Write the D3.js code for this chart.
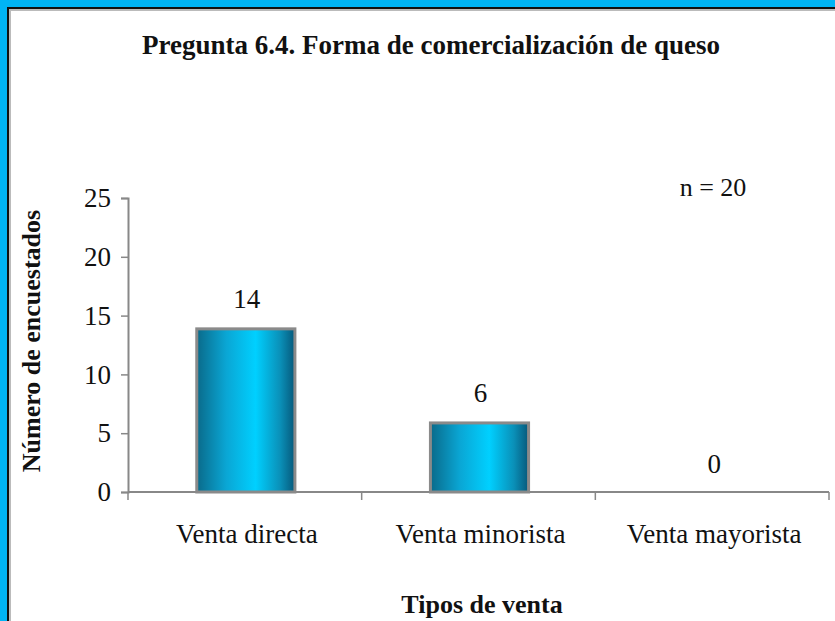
<!DOCTYPE html>
<html>
<head>
<meta charset="utf-8">
<script src="https://cdn.jsdelivr.net/npm/d3@7"></script>
<style>
  body { margin: 0; background: #00b4f5; }
  svg { display: block; }
  text { font-family: "Liberation Serif", "Times New Roman", serif; fill: #111; }
</style>
</head>
<body>
<div id="chart"></div>
<script>
// data
var categories = ["Venta directa", "Venta minorista", "Venta mayorista"];
var values = [14, 6, 0];
var yTicks = [0, 5, 10, 15, 20, 25];
var title = "Pregunta 6.4. Forma de comercialización de queso";
var xTitle = "Tipos de venta";
var yTitle = "Número de encuestados";
var note = "n = 20";

var W = 835, H = 621;
var svg = d3.select('#chart').append('svg')
	.attr('width', W)
	.attr('height', H);

// panel frame
svg.append('rect')
	.attr('x', 0).attr('y', 0).attr('width', W).attr('height', H)
	.attr('fill', '#00b4f5');
svg.append('rect')
	.attr('x', 8).attr('y', 8).attr('width', W).attr('height', H)
	.attr('fill', '#fff')
	.attr('stroke', '#111')
	.attr('stroke-width', 2);
svg.append('rect')
	.attr('x', 10).attr('y', 10).attr('width', W).attr('height', H)
	.attr('fill', 'none')
	.attr('stroke', '#bbb')
	.attr('stroke-width', 2);

var defs = svg.append('defs');
var grad = defs.append('linearGradient')
	.attr('id', 'cyl')
	.attr('x1', '0%').attr('x2', '100%').attr('y1', '0%').attr('y2', '0%');
grad.append('stop').attr('offset', '0%').attr('stop-color', '#0a6a8a');
grad.append('stop').attr('offset', '30%').attr('stop-color', '#0aa6d4');
grad.append('stop').attr('offset', '60%').attr('stop-color', '#00d0ff');
grad.append('stop').attr('offset', '85%').attr('stop-color', '#0a90b8');
grad.append('stop').attr('offset', '100%').attr('stop-color', '#06587a');

var plotL = 128, plotR = 829, plotT = 198, plotB = 492;

var x = d3.scaleBand()
	.domain(categories)
	.range([plotL, plotR])
	.padding(0);

var y = d3.scaleLinear()
	.domain([0, 25])
	.range([plotB, plotT]);

var barW = x.bandwidth() * 0.42;

// y axis
var yAxis = d3.axisLeft(y)
	.tickValues(yTicks)
	.tickSize(7)
	.tickPadding(10);
var gy = svg.append('g')
	.attr('transform', 'translate(' + plotL + ',0)')
	.call(yAxis);
gy.select('.domain').attr('stroke', '#888').attr('stroke-width', 2);
gy.selectAll('.tick line').attr('stroke', '#888').attr('stroke-width', 1.5);
gy.selectAll('.tick text')
	.style('font-family', '"Liberation Serif", serif')
	.style('font-size', '27px')
	.attr('fill', '#222');

// x axis: ticks at category boundaries
var boundaries = categories.map(function(c){ return x(c); }).concat([plotR]);
svg.append('line')
	.attr('x1', plotL).attr('x2', plotR)
	.attr('y1', plotB).attr('y2', plotB)
	.attr('stroke', '#888').attr('stroke-width', 2);
svg.append('g').selectAll('line')
	.data(boundaries)
	.enter().append('line')
	.attr('x1', function(d){ return d; })
	.attr('x2', function(d){ return d; })
	.attr('y1', plotB)
	.attr('y2', plotB + 8)
	.attr('stroke', '#888')
	.attr('stroke-width', 1.5);

svg.append('g').selectAll('text')
	.data(categories)
	.enter().append('text')
	.attr('x', function(d){ return x(d) + x.bandwidth() / 2 + 2; })
	.attr('y', 543)
	.attr('text-anchor', 'middle')
	.style('font-size', '27px')
	.text(function(d){ return d; });

// bars
svg.append('g').selectAll('rect')
	.data(values)
	.enter().append('rect')
	.attr('x', function(d, i){ return x(categories[i]) + (x.bandwidth() - barW) / 2 + 1; })
	.attr('y', function(d){ return y(d) + 1.5; })
	.attr('width', barW)
	.attr('height', function(d){ return Math.max(0, plotB - y(d) - 1.5); })
	.attr('fill', 'url(#cyl)')
	.attr('stroke', function(d){ return d > 0 ? '#8a8a8a' : 'none'; })
	.attr('stroke-width', 3);

// value labels
svg.append('g').selectAll('text')
	.data(values)
	.enter().append('text')
	.attr('x', function(d, i){ return x(categories[i]) + x.bandwidth() / 2 + 2; })
	.attr('y', function(d){ return y(d) - 19; })
	.attr('text-anchor', 'middle')
	.style('font-size', '27px')
	.text(function(d){ return d; });

// title
svg.append('text')
	.attr('x', 431).attr('y', 54)
	.attr('text-anchor', 'middle')
	.style('font-size', '27px')
	.style('font-weight', 'bold')
	.text(title);

svg.append('text')
	.attr('x', 482).attr('y', 613)
	.attr('text-anchor', 'middle')
	.style('font-size', '26px')
	.style('font-weight', 'bold')
	.text(xTitle);

svg.append('text')
	.attr('transform', 'translate(40,341) rotate(-90)')
	.attr('text-anchor', 'middle')
	.style('font-size', '26px')
	.style('font-weight', 'bold')
	.text(yTitle);

svg.append('text')
	.attr('x', 713).attr('y', 196)
	.attr('text-anchor', 'middle')
	.style('font-size', '26px')
	.text(note);
</script>
</body>
</html>
